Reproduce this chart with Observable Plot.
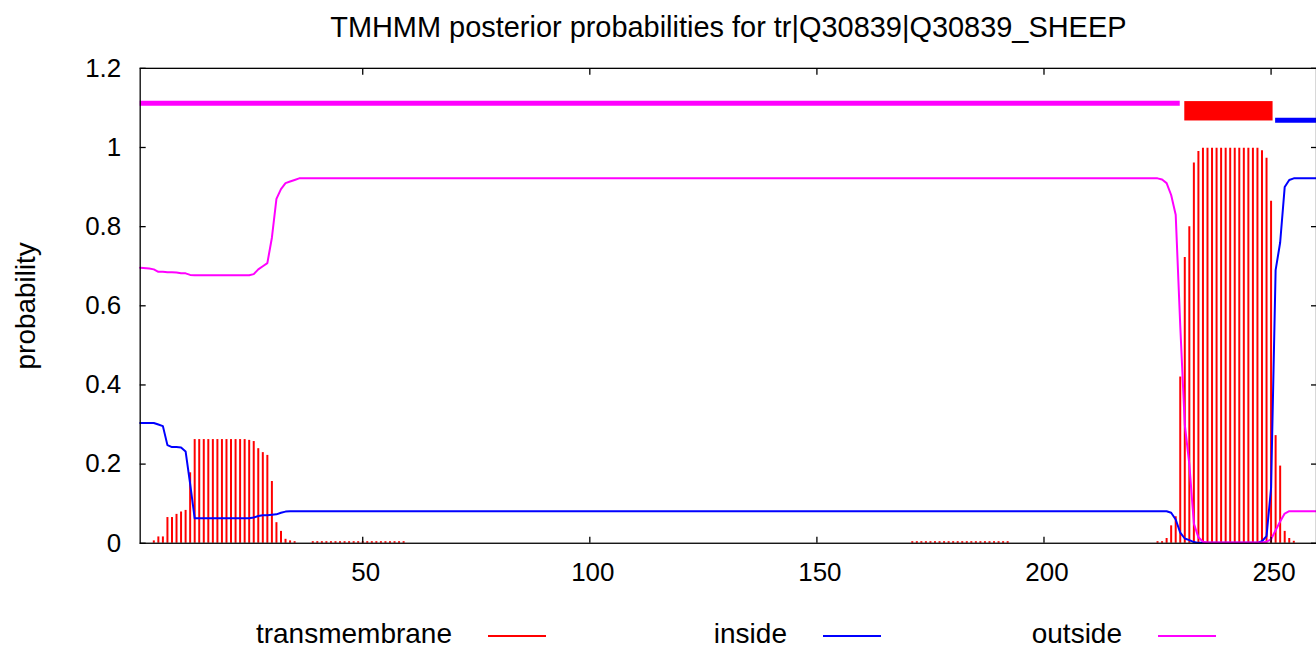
<!DOCTYPE html>
<html>
<head>
<meta charset="utf-8">
<script src="https://cdn.jsdelivr.net/npm/d3@7"></script>
<script src="https://cdn.jsdelivr.net/npm/@observablehq/plot@0.6"></script>
<style>
html, body { margin: 0; padding: 0; background: #fff; overflow: hidden; width: 1316px; height: 650px; }
#wrap { position: relative; width: 1316px; height: 650px; overflow: hidden; font-family: "Liberation Sans", Arial, sans-serif; }
#chart { position: absolute; left: 0; top: 0; }
#legend { position: absolute; left: 0; top: 600px; }
</style>
</head>
<body>
<div id="wrap"><div id="chart"></div><svg id="legend" width="1316" height="50"></svg></div>
<script>
// ---- data ----
const titleText = "TMHMM posterior probabilities for tr|Q30839|Q30839_SHEEP";
const yLabelText = "probability";

const xTicks = [50, 100, 150, 200, 250];
const xTickLabels = ["50", "100", "150", "200", "250"];
const yTicks = [0, 0.2, 0.4, 0.6, 0.8, 1, 1.2];
const yTickLabels = ["0", "0.2", "0.4", "0.6", "0.8", "1", "1.2"];

// transmembrane posterior (impulses), residues with visible bars
const tmResidue = [4,5,6,7,8,9,10,11,12,13,14,15,16,17,18,19,20,21,22,23,24,25,26,27,28,29,30,31,32,33,34,35,
  39,40,41,42,43,44,45,46,47,48,49,50,51,52,53,54,55,56,57,58,59,
  171,172,173,174,175,176,177,178,179,180,181,182,183,184,185,186,187,188,189,190,191,192,
  225,226,227,228,229,230,231,232,233,234,235,236,237,238,239,240,241,242,243,244,245,246,247,248,249,250,251,252,253,254,255];
const tmProbability = [0.006,0.016,0.016,0.065,0.065,0.073,0.079,0.083,0.178,
  0.262,0.262,0.262,0.262,0.262,0.262,0.262,0.262,0.262,0.262,0.262,0.262,
  0.260,0.257,0.239,0.229,0.222,0.156,0.052,0.030,0.010,0.006,0.004,
  0.004,0.004,0.004,0.004,0.004,0.004,0.004,0.004,0.004,0.004,0.004,0.004,0.004,0.004,0.004,0.004,0.004,0.004,0.004,0.004,0.004,
  0.004,0.004,0.004,0.004,0.004,0.004,0.004,0.004,0.004,0.004,0.004,0.004,0.004,0.004,0.004,0.004,0.004,0.004,0.004,0.004,0.004,0.004,
  0.004,0.004,0.012,0.044,0.067,0.420,0.722,0.800,0.961,0.990,
  0.998,0.998,0.998,0.998,0.998,0.998,0.998,0.998,0.998,0.998,0.998,0.998,0.998,
  0.992,0.973,0.864,0.272,0.195,0.030,0.012,0.005];

// inside posterior (line), residues where the value changes
const insideResidue = [1,4,5,6,7,8,9,10,11,12,13,25,26,27,28,29,30,31,32,33,34,227,228,229,230,231,232,233,234,247,248,249,250,251,252,253,254,255,260];
const insideProbability = [0.304,0.304,0.300,0.296,0.248,0.243,0.243,0.242,0.232,0.150,0.063,
  0.063,0.065,0.069,0.071,0.071,0.072,0.073,0.077,0.080,0.081,
  0.081,0.077,0.060,0.027,0.012,0.008,0.003,0.001,
  0.001,0.005,0.018,0.140,0.690,0.760,0.900,0.918,0.922,0.922];

// outside posterior (line)
const outsideResidue = [1,3,4,5,6,7,8,9,10,11,12,13,25,26,27,28,29,30,31,32,33,34,35,36,225,226,227,228,229,230,231,232,233,234,235,236,248,249,250,251,252,253,254,260];
const outsideProbability = [0.696,0.694,0.692,0.686,0.686,0.685,0.685,0.684,0.682,0.682,0.678,0.677,
  0.677,0.680,0.692,0.700,0.708,0.772,0.870,0.895,0.910,0.914,0.918,0.922,
  0.922,0.919,0.910,0.880,0.830,0.550,0.300,0.200,0.050,0.015,0.004,0.002,
  0.002,0.004,0.010,0.033,0.055,0.075,0.081,0.081];

// predicted topology (top band)
const regionLabel = ["outside", "TMhelix", "inside"];
const regionStart = [1, 231, 251];
const regionEnd = [230, 250, 260];
const outsideLevel = 1.112, insideLevel = 1.069, tmLow = 1.067, tmHigh = 1.116;

const legendLabels = ["transmembrane", "inside", "outside"];
const colors = {transmembrane: "#ff0000", inside: "#0000ff", outside: "#ff00ff", TMhelix: "#ff0000"};

// ---- tables ----
const tm = tmResidue.map((r, i) => ({res: r, p: tmProbability[i]}));
const inside = insideResidue.map((r, i) => ({res: r, p: insideProbability[i]}));
const outside = outsideResidue.map((r, i) => ({res: r, p: outsideProbability[i]}));
const regions = regionLabel.map((l, i) => ({label: l, start: regionStart[i], end: regionEnd[i]}));

const FONT = '"Liberation Sans", Arial, sans-serif';
const noText = () => "";

const chart = Plot.plot({
  width: 1319,
  height: 650,
  marginLeft: 140,
  marginRight: 0,
  marginTop: 68,
  marginBottom: 106,
  style: {fontFamily: FONT, fontSize: "26px", background: "white", color: "black"},
  x: {domain: [1, 260], label: null},
  y: {domain: [0, 1.2], label: null},
  marks: [
    Plot.ruleX(tm, {x: "res", y1: 0, y2: "p", stroke: colors.transmembrane, strokeWidth: 2}),
    Plot.line(inside, {x: "res", y: "p", stroke: colors.inside, strokeWidth: 2}),
    Plot.line(outside, {x: "res", y: "p", stroke: colors.outside, strokeWidth: 2}),
    Plot.ruleY(regions.filter(d => d.label === "outside"), {x1: "start", x2: "end", y: outsideLevel, stroke: colors.outside, strokeWidth: 5}),
    Plot.rect(regions.filter(d => d.label === "TMhelix"), {x1: "start", x2: "end", y1: tmLow, y2: tmHigh, fill: colors.TMhelix, insetRight: -2}),
    Plot.ruleY(regions.filter(d => d.label === "inside"), {x1: "start", x2: "end", y: insideLevel, stroke: colors.inside, strokeWidth: 5}),
    Plot.frame({stroke: "black", strokeWidth: 1.3}),
    // inward ticks on all four sides
    Plot.axisX(xTicks, {anchor: "bottom", tickSize: 6, dy: -6, tickFormat: noText, label: null, strokeWidth: 1.3}),
    Plot.axisX(xTicks, {anchor: "top", tickSize: 6, dy: 6, tickFormat: noText, label: null, strokeWidth: 1.3}),
    Plot.axisY(yTicks, {anchor: "left", tickSize: 6, dx: 6, tickFormat: noText, label: null, strokeWidth: 1.3}),
    Plot.axisY(yTicks, {anchor: "right", tickSize: 6, dx: -6, tickFormat: noText, label: null, strokeWidth: 1.3}),
    // tick labels
    Plot.axisX(xTicks, {anchor: "bottom", tickSize: 0, tickPadding: 19, dx: 3, tickFormat: (d, i) => xTickLabels[i], label: null, fontSize: 26}),
    Plot.axisY(yTicks, {anchor: "left", tickSize: 0, tickPadding: 19, tickFormat: (d, i) => yTickLabels[i], label: null, fontSize: 26}),
    // title and y label
    Plot.text([titleText], {frameAnchor: "top", dy: -31, textAnchor: "middle", lineAnchor: "bottom", fontSize: 29, fill: "black"}),
    Plot.text([yLabelText], {frameAnchor: "left", dx: -114, rotate: -90, textAnchor: "middle", lineAnchor: "middle", fontSize: 28, fill: "black"})
  ]
});
document.getElementById("chart").appendChild(chart);

// ---- legend (below the plot area) ----
const lg = d3.select("#legend");
const entryStart = 232, entryWidth = 335, textBox = 220, gap = 36, sample = 58;
legendLabels.forEach((name, i) => {
  const x0 = entryStart + i * entryWidth;
  lg.append("text")
    .attr("x", x0 + textBox).attr("y", 43)
    .attr("text-anchor", "end")
    .attr("font-family", FONT).attr("font-size", 28)
    .attr("fill", "black")
    .text(name);
  lg.append("line")
    .attr("x1", x0 + textBox + gap).attr("x2", x0 + textBox + gap + sample)
    .attr("y1", 36).attr("y2", 36)
    .attr("stroke", colors[name]).attr("stroke-width", 2);
});
</script>
</body>
</html>
